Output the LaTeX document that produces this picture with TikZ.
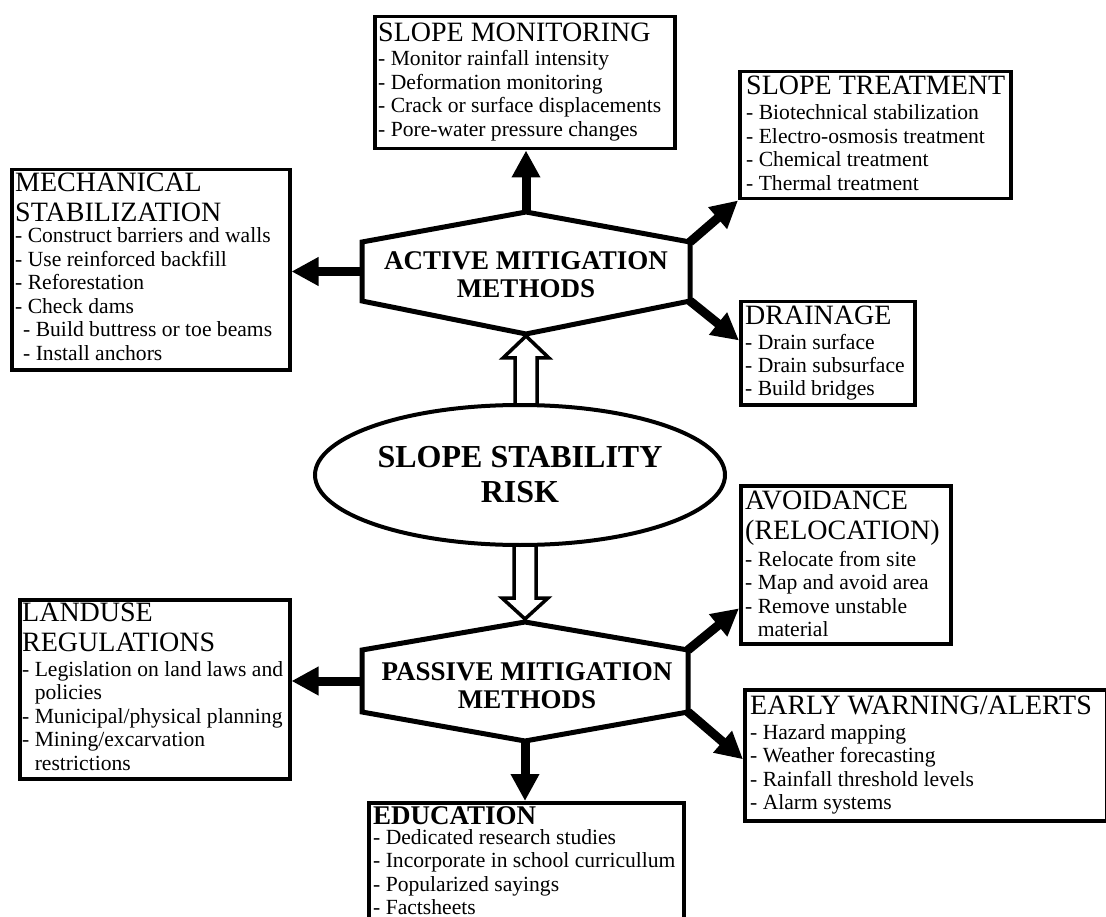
\documentclass[tikz,border=0pt]{standalone}
\usepackage{fontspec}
\setmainfont{Liberation Serif}
\usetikzlibrary{arrows.meta,calc,shapes.geometric}
% stacked lines whose first baseline is the node's base
\newcommand{\leftrows}[1]{\begin{tabular}[t]{@{}l@{}}#1\end{tabular}}
\newcommand{\midrows}[1]{\begin{tabular}[t]{@{}c@{}}#1\end{tabular}}
\newcommand{\indnt}{\phantom{- }}

\begin{document}
\begin{tikzpicture}[x=1pt,y=-1pt,
  panel/.style={draw, line width=3.5pt, rectangle, inner sep=0pt, anchor=north west},
  headtxt/.style={anchor=base west, inner sep=0pt, font=\fontsize{28}{30}\selectfont},
  listtxt/.style={anchor=base west, inner sep=0pt, font=\fontsize{21.6}{23.5}\selectfont},
  hexbody/.style={rectangle, inner sep=0pt, outer sep=0pt},
  hexline/.style={line width=5pt, line join=miter},
  hexlbl/.style={anchor=base, inner sep=0pt, font=\bfseries\fontsize{27}{28}\selectfont},
  solidarrow/.style={line width=9pt, -{Triangle[length=27pt,width=27pt]}},
  hollow/.style={draw, line width=3.5pt, fill=white, line join=miter},
]
\useasboundingbox (0,0) rectangle (1106,917);

% ---- central hexagons ----
\node[hexbody, minimum width=328pt, minimum height=59pt] (act) at (526,271.5) {};
\coordinate (actT) at ($(act.north)+(0,-30)$);
\coordinate (actB) at ($(act.south)+(0,33)$);

\node[hexbody, minimum width=326pt, minimum height=62pt] (psv) at (525,681) {};
\coordinate (psvT) at ($(psv.north)+(0,-28)$);
\coordinate (psvB) at ($(psv.south)+(0,29)$);

% ---- hollow arrows from the risk ellipse ----
\coordinate (upTip) at ($(actB)+(0,2)$);
\draw[hollow] (upTip) -- ++(23,22) -- ++(-12,0) -- ++(0,49) -- ++(-22,0)
  -- ++(0,-49) -- ++(-12,0) -- cycle;
\coordinate (dnTip) at ($(psvT)+(0,-3)$);
\draw[hollow] (dnTip) -- ++(23,-21) -- ++(-12,0) -- ++(0,-55) -- ++(-22,0)
  -- ++(0,55) -- ++(-12,0) -- cycle;

% ---- risk ellipse ----
\node[ellipse, draw, line width=4pt, fill=white, minimum width=410pt, minimum height=140pt,
  inner sep=0pt] (risk) at (520,475) {};
\node[anchor=base, inner sep=0pt, font=\bfseries\fontsize{32}{35}\selectfont] (risklbl)
  at (520,467) {\midrows{SLOPE STABILITY\\RISK}};

% ---- hexagon outlines and labels ----
\draw[hexline, fill=white] (act.north west) -- (actT) -- (act.north east) -- (act.south east)
  -- (actB) -- (act.south west) -- cycle;
\node[hexlbl] (actlbl) at (526,270) {\midrows{ACTIVE MITIGATION\\METHODS}};

\draw[hexline, fill=white] (psv.north west) -- (psvT) -- (psv.north east) -- (psv.south east)
  -- (psvB) -- (psv.south west) -- cycle;
\node[hexlbl] (psvlbl) at (527,680) {\midrows{PASSIVE MITIGATION\\METHODS}};

% ---- measure panels ----
\node[panel, minimum width=300pt, minimum height=132pt] (mon) at (373,15) {};
\node[headtxt] (monH) at (378,42) {SLOPE MONITORING};
\node[listtxt] (monL) at (378,66) {\leftrows{- Monitor rainfall intensity\\- Deformation monitoring\\- Crack or surface displacements\\- Pore-water pressure changes}};

\node[panel, minimum width=271pt, minimum height=127pt] (trt) at (738,70) {};
\node[headtxt] (trtH) at (746,95) {SLOPE TREATMENT};
\node[listtxt] (trtL) at (746,120) {\leftrows{- Biotechnical stabilization\\- Electro-osmosis treatment\\- Chemical treatment\\- Thermal treatment}};

\node[panel, minimum width=278pt, minimum height=200pt] (mech) at (10,168) {};
\node[headtxt] (mechH) at (15,192) {\leftrows{MECHANICAL\\STABILIZATION}};
\node[listtxt] (mechL) at (15,243) {\leftrows{- Construct barriers and walls\\- Use reinforced backfill\\- Reforestation\\- Check dams\\\hspace*{8pt}- Build buttress or toe beams\\\hspace*{8pt}- Install anchors}};

\node[panel, minimum width=174pt, minimum height=103pt] (drn) at (739,300) {};
\node[headtxt] (drnH) at (745,325) {DRAINAGE};
\node[listtxt] (drnL) at (745,349) {\leftrows{- Drain surface\\- Drain subsurface\\- Build bridges}};

\node[panel, minimum width=270pt, minimum height=179pt] (land) at (18,598) {};
\node[headtxt] (landH) at (22,621) {\leftrows{LANDUSE\\REGULATIONS}};
\node[listtxt] (landL) at (22,676) {\leftrows{- Legislation on land laws and\\\indnt policies\\- Municipal/physical planning\\- Mining/excarvation\\\indnt restrictions}};

\node[panel, minimum width=210pt, minimum height=158pt] (avd) at (739,484) {};
\node[headtxt] (avdH) at (745,509) {\leftrows{AVOIDANCE\\(RELOCATION)}};
\node[listtxt] (avdL) at (745,566) {\leftrows{- Relocate from site\\- Map and avoid area\\- Remove unstable\\\indnt material}};

\node[panel, minimum width=362pt, minimum height=131pt] (ew) at (743,688) {};
\node[headtxt] (ewH) at (750,714) {EARLY WARNING/ALERTS};
\node[listtxt] (ewL) at (750,739) {\leftrows{- Hazard mapping\\- Weather forecasting\\- Rainfall threshold levels\\- Alarm systems}};

\node[panel, minimum width=315pt, minimum height=135pt] (edu) at (367,801) {};
\node[headtxt, font=\bfseries\fontsize{27}{30}\selectfont] (eduH) at (373,824) {EDUCATION};
\node[listtxt] (eduL) at (373,844) {\leftrows{- Dedicated research studies\\- Incorporate in school curricullum\\- Popularized sayings\\- Factsheets}};

% ---- connectors ----
\draw[solidarrow] (actT) -- (actT |- mon.south);
\draw[solidarrow] (act.north east) -- (trt.south west);
\draw[solidarrow] (act.south east) -- ($(drn.north west)!0.38!(drn.south west)$);
\draw[solidarrow] (act.west) -- (act.west -| mech.east);

\draw[solidarrow] (psv.west) -- (psv.west -| land.east);
\draw[solidarrow] (psvB) -- (psvB |- edu.north);
\draw[solidarrow] (psv.north east) -- ($(avd.north west)!0.77!(avd.south west)$);
\draw[solidarrow] (psv.south east) -- ($(ew.north west)!0.53!(ew.south west)$);
\end{tikzpicture}
\end{document}
